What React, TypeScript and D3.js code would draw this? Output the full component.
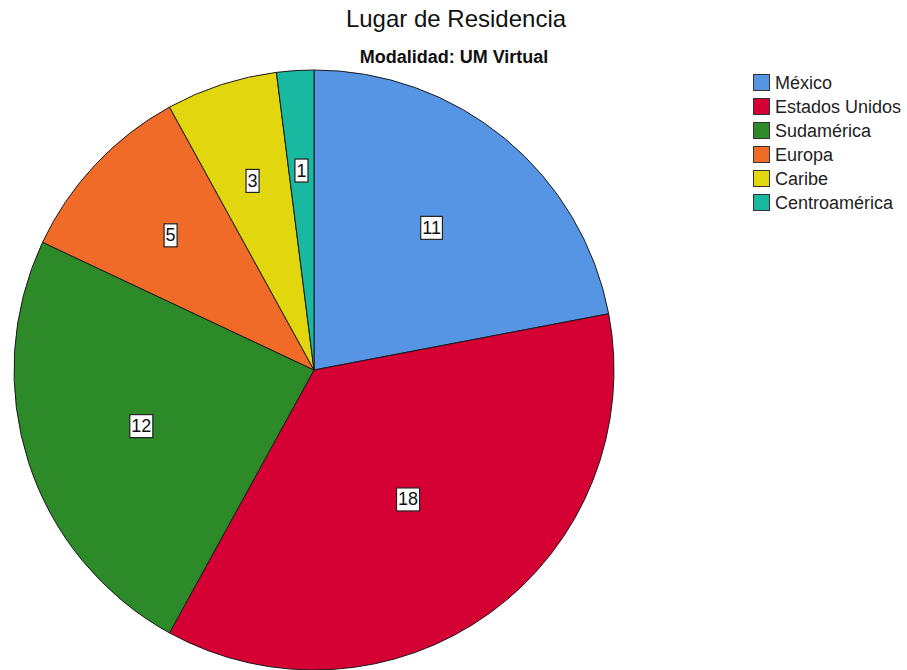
import React, { useRef, useEffect } from 'react';
import * as d3 from 'd3';

const CATEGORIES = ['México', 'Estados Unidos', 'Sudamérica', 'Europa', 'Caribe', 'Centroamérica'];
const COUNTS = [11, 18, 12, 5, 3, 1];
const COLORS = ['#5694E4', '#D50034', '#2C8A28', '#F06B28', '#E2D60E', '#19B8A0'];

const TITLE = 'Lugar de Residencia';
const SUBTITLE = 'Modalidad: UM Virtual';

export default function App() {
  const svgRef = useRef<SVGSVGElement | null>(null);

  useEffect(() => {
    if (!svgRef.current) return;
    const width = 907;
    const height = 670;
    const cx = 314;
    const cy = 370;
    const radius = 300;
    const font = 'Arial, "Liberation Sans", sans-serif';

    const svg = d3.select(svgRef.current);
    svg.selectAll('*').remove();
    svg.attr('width', width).attr('height', height).attr('viewBox', `0 0 ${width} ${height}`);
    svg.append('rect').attr('width', width).attr('height', height).attr('fill', '#fff');

    // titles
    svg.append('text').attr('x', 456).attr('y', 27).attr('text-anchor', 'middle')
      .attr('font-family', font).attr('font-size', '24px').attr('fill', '#111').text(TITLE);
    svg.append('text').attr('x', 454).attr('y', 63).attr('text-anchor', 'middle')
      .attr('font-family', font).attr('font-size', '18px').attr('font-weight', 'bold').attr('fill', '#111').text(SUBTITLE);

    const data = CATEGORIES.map((c, i) => ({ name: c, value: COUNTS[i], color: COLORS[i] }));
    const pie = d3.pie<{ name: string; value: number; color: string }>().value(d => d.value).sort(null);
    const arcs = pie(data);
    const arc = d3.arc<d3.PieArcDatum<{ name: string; value: number; color: string }>>().innerRadius(0).outerRadius(radius);

    const g = svg.append('g').attr('transform', `translate(${cx},${cy})`);
    g.selectAll('path.slice').data(arcs).enter().append('path').attr('class', 'slice')
      .attr('d', arc).attr('fill', d => d.data.color).attr('stroke', '#1a1a1a').attr('stroke-width', 1);

    // value labels at the sector centroid
    arcs.forEach((d) => {
      const a = d.endAngle - d.startAngle;
      const mid = (d.startAngle + d.endAngle) / 2;
      const rr = (2 * radius * Math.sin(a / 2)) / (3 * (a / 2));
      const x = rr * Math.sin(mid);
      const y = -rr * Math.cos(mid);
      const lbl = g.append('g').attr('transform', `translate(${x},${y})`);
      const txt = lbl.append('text').attr('text-anchor', 'middle').attr('dominant-baseline', 'central')
        .attr('font-family', font).attr('font-size', '18px').attr('fill', '#111').text(String(d.data.value));
      const w = (txt.node() as SVGTextElement).getComputedTextLength();
      lbl.insert('rect', 'text').attr('x', -w / 2 - 1.5).attr('y', -11.5).attr('width', w + 3).attr('height', 23)
        .attr('fill', '#fff').attr('stroke', '#222').attr('stroke-width', 1.2);
    });

    // legend
    const legend = svg.append('g').attr('transform', 'translate(753,74)');
    data.forEach((d, i) => {
      const row = legend.append('g').attr('transform', `translate(0,${i * 24})`);
      row.append('rect').attr('x', 0.5).attr('y', 0.5).attr('width', 16).attr('height', 16)
        .attr('fill', d.color).attr('stroke', '#333').attr('stroke-width', 1);
      row.append('text').attr('x', 22).attr('y', 8.5).attr('dominant-baseline', 'central')
        .attr('font-family', font).attr('font-size', '18px').attr('fill', '#222').text(d.name);
    });
  }, []);

  return (
    <div style={{ position: 'fixed', left: 0, top: 0, background: '#fff' }}>
      <svg ref={svgRef} style={{ display: 'block' }} />
    </div>
  );
}
